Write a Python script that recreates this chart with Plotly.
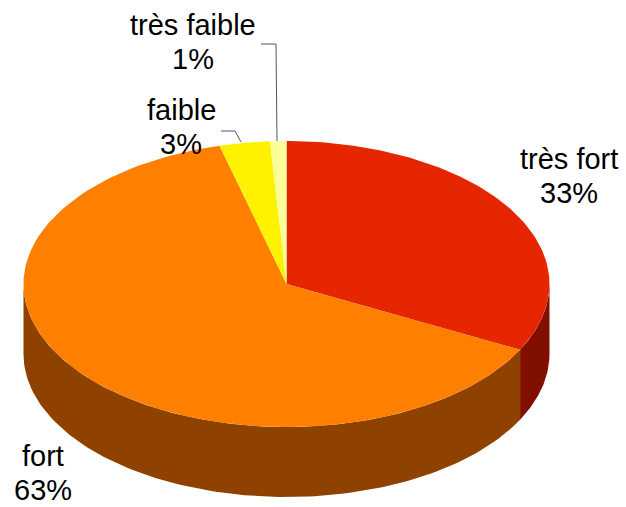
import numpy as np
import plotly.graph_objects as go

labels = ["très fort", "fort", "faible", "très faible"]
values = [32.6, 63.3, 3.1, 1.0]
shown = ["33%", "63%", "3%", "1%"]
top_colors = ["#e62600", "#ff7f00", "#fff200", "#ffff99"]
side_colors = ["#800f00", "#8f4200", "#8f8500", "#8f8f55"]

# pie geometry, in page pixels
cx, cy = 286.5, 284
rx, ry = 263, 143
depth = 70
W, H = 626, 507

# centre of the first text line of each label, second line sits below it
label_pos = [(569, 159), (43, 456), (181, 110), (193, 25)]
line_gap = 34
leaders = [
    [(221, 131), (235, 131), (241, 142)],
    [(261, 44), (276, 44), (277, 141)],
]


def edge(a0, a1, n=120):
    a = np.radians(np.linspace(a0, a1, n))
    return cx + rx * np.sin(a), cy - ry * np.cos(a)


fig = go.Figure()

angles = np.cumsum([0] + values) * 3.6

# outer wall first, only the part facing the viewer
for i in range(len(values)):
    a0, a1 = max(angles[i], 90), min(angles[i + 1], 270)
    if a1 <= a0:
        continue
    x, y = edge(a0, a1)
    fig.add_trace(go.Scatter(
        x=np.r_[x, x[::-1]],
        y=np.r_[y, y[::-1] + depth],
        mode="lines",
        fill="toself",
        fillcolor=side_colors[i],
        line=dict(width=0),
        hoverinfo="skip",
    ))

# top of the pie
for i, name in enumerate(labels):
    x, y = edge(angles[i], angles[i + 1])
    fig.add_trace(go.Scatter(
        x=np.r_[cx, x, cx],
        y=np.r_[cy, y, cy],
        mode="lines",
        fill="toself",
        fillcolor=top_colors[i],
        line=dict(width=0),
        name=name,
    ))

for pts in leaders:
    fig.add_trace(go.Scatter(
        x=[p[0] for p in pts],
        y=[p[1] for p in pts],
        mode="lines",
        line=dict(color="#555555", width=1),
        hoverinfo="skip",
    ))

for name, pct, (lx, ly) in zip(labels, shown, label_pos):
    font = dict(family="Liberation Sans", size=29, color="black")
    fig.add_annotation(x=lx, y=ly, text=name, showarrow=False, font=font)
    fig.add_annotation(x=lx, y=ly + line_gap, text=pct, showarrow=False, font=font)

fig.update_xaxes(range=[0, W], visible=False)
fig.update_yaxes(range=[H, 0], visible=False)
fig.update_layout(
    width=W,
    height=H,
    margin=dict(l=0, r=0, t=0, b=0),
    paper_bgcolor="white",
    plot_bgcolor="white",
    showlegend=False,
)

# the page's default body margin would push the figure off the window
fig.write_html("out.html", config={"displayModeBar": False},
               post_script="document.body.style.margin='0';")
